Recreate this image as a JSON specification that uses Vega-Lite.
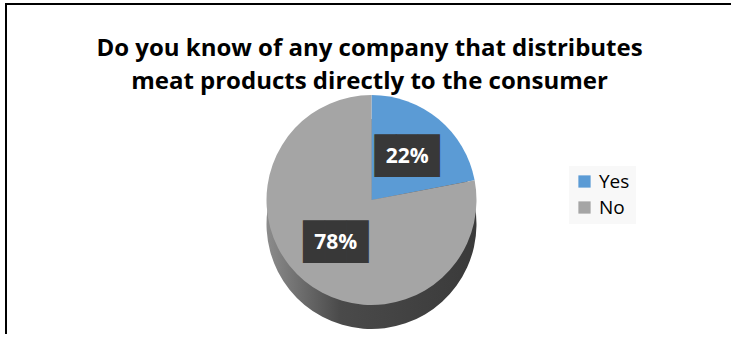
{
  "$schema": "https://vega.github.io/schema/vega-lite/v6.json",
  "usermeta": {"embedOptions": {"actions": false}},
  "autosize": "none",
  "padding": {"left": 6, "top": 4, "right": 0, "bottom": 0},
  "width": 731,
  "height": 336,
  "background": "white",
  "view": {"stroke": "black", "strokeWidth": 2, "strokeDash": [725, 1079, 336, 10]},
  "config": {
    "font": "Open Sans"
  },
  "title": {
    "text": ["Do you know of any company that distributes", "meat products directly to the consumer"],
    "fontSize": 24,
    "font": "Open Sans",
    "fontWeight": "bold",
    "color": "black",
    "anchor": "middle",
    "frame": "group",
    "dx": -2,
    "offset": -90,
    "lineHeight": 33
  },
  "data": {"values": [
    {"answer": "Yes", "value": 22, "label": "22%"},
    {"answer": "No", "value": 78, "label": "78%"}
  ]},
  "encoding": {
    "theta": {"field": "value", "type": "quantitative", "stack": true},
    "order": {"field": "answer", "sort": "descending"}
  },
  "layer": [
    {
      "mark": {"type": "arc", "radius": 105, "yOffset": 52,
        "color": {"gradient": "linear", "x1": 0, "x2": 1, "y1": 0, "y2": 0,
          "stops": [{"offset": 0, "color": "#8c8c8c"}, {"offset": 0.35, "color": "#4a4a4a"}, {"offset": 1, "color": "#3a3a3a"}]}}
    },
    {
      "mark": {"type": "arc", "radius": 105, "yOffset": 28},
      "encoding": {
        "color": {"field": "answer", "type": "nominal", "sort": ["Yes", "No"],
          "scale": {"domain": ["Yes", "No"], "range": ["#5b9bd5", "#a5a5a5"]},
          "legend": {"title": null, "orient": "none", "legendX": 563, "legendY": 162,
            "symbolType": "square", "symbolSize": 150, "symbolStrokeWidth": 0,
            "labelFontSize": 19, "labelFont": "Open Sans", "labelColor": "black",
            "rowPadding": 6, "padding": 6, "fillColor": "#f8f8f8", "labelOffset": 5}
        }
      }
    },
    {
      "mark": {"type": "text", "radius": 56, "yOffset": 28, "font": "DejaVu Sans Mono", "fontSize": 36, "color": "#383838", "baseline": "middle"},
      "encoding": {"text": {"value": "███"}}
    },
    {
      "mark": {"type": "text", "radius": 56, "yOffset": 28, "font": "Open Sans", "fontWeight": "bold", "fontSize": 21, "color": "white", "baseline": "middle"},
      "encoding": {"text": {"field": "label"}}
    }
  ]
}
